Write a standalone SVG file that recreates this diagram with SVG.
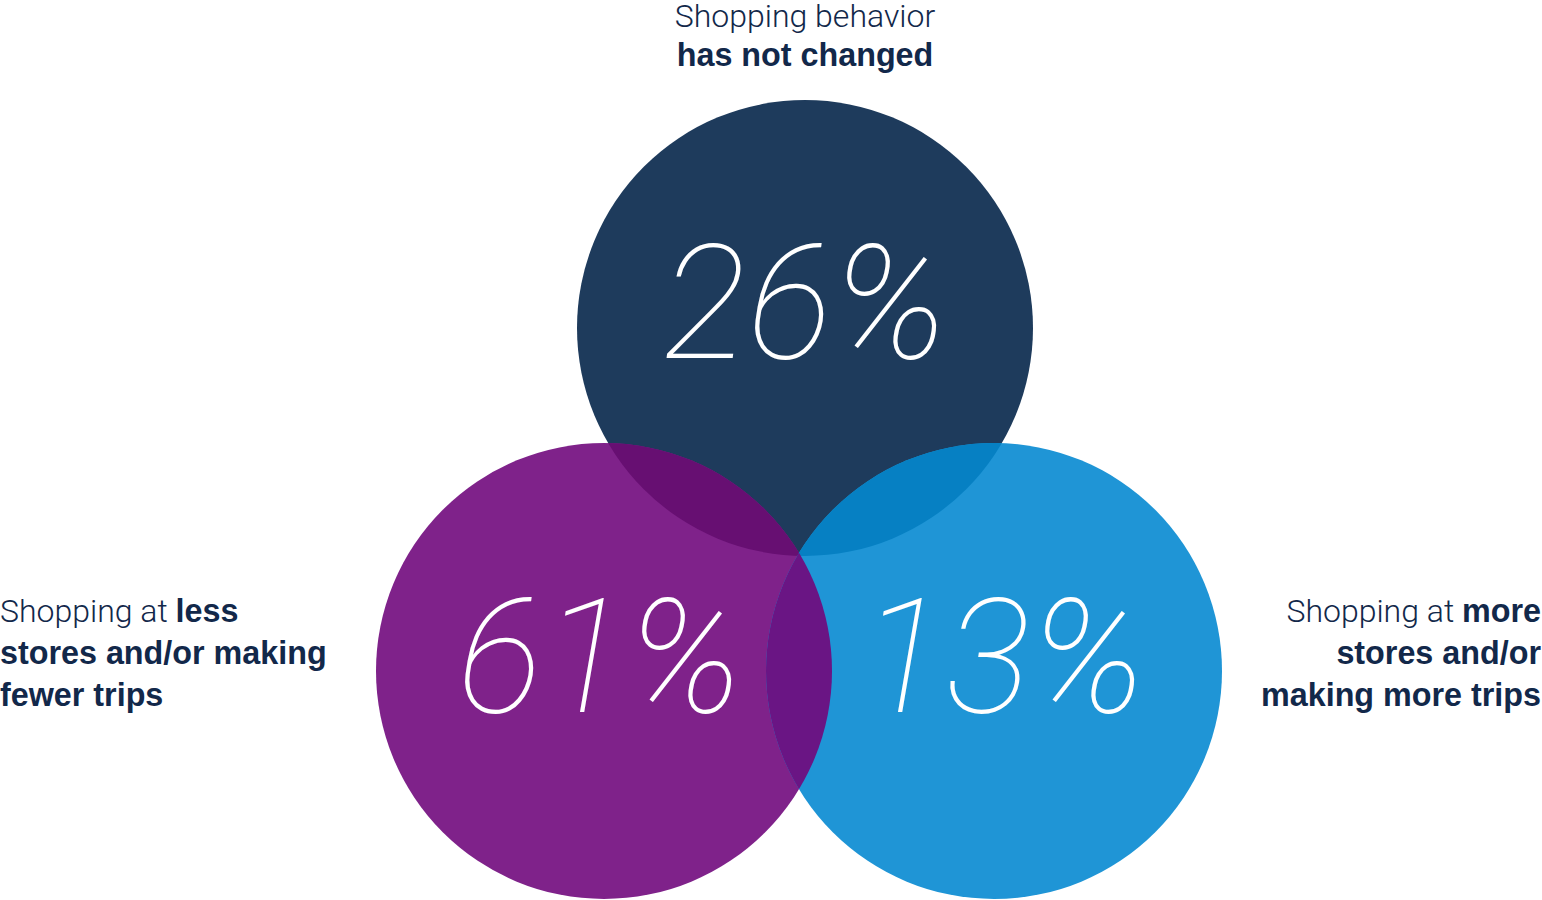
<svg xmlns="http://www.w3.org/2000/svg" width="1542" height="900" viewBox="0 0 1542 900">
<style>
.lbl{font-family:"Liberation Sans",Arial,sans-serif;font-size:32px;fill:#12284a;font-weight:400}
.b{font-weight:700;font-size:32.3px}
.light{font-family:Roboto,"Liberation Sans",sans-serif;font-weight:300;font-size:32px}
.pct{font-family:Roboto,"Liberation Sans",sans-serif;font-weight:100;font-style:italic;font-size:160px;fill:#ffffff;text-anchor:middle}
</style>
<defs>
<clipPath id="cTop"><circle cx="805" cy="328" r="228"/></clipPath>
<clipPath id="cLeft"><circle cx="604" cy="671" r="228"/></clipPath>
</defs>
<g id="node-top">
<circle cx="805" cy="328" r="228" fill="#1e3b5c"/>
</g>
<g id="node-left">
<circle cx="604" cy="671" r="228" fill="#7f228a"/>
</g>
<g id="node-right">
<circle cx="994" cy="671" r="228" fill="#1f95d6"/>
</g>
<g id="overlaps">
<circle cx="604" cy="671" r="228" fill="#670f72" clip-path="url(#cTop)"/>
<circle cx="994" cy="671" r="228" fill="#0680c3" clip-path="url(#cTop)"/>
<circle cx="994" cy="671" r="228" fill="#6a1584" clip-path="url(#cLeft)"/>
</g>
<g id="connectors"></g>
<g id="pct-labels">
<text class="pct" x="805" y="358">26%</text>
<text class="pct" x="600" y="712">61%</text>
<text class="pct" x="1003" y="712">13%</text>
</g>
<g id="label-top">
<text class="lbl" x="805" y="27" text-anchor="middle"><tspan class="light">Shopping behavior</tspan></text>
<text class="lbl b" x="805" y="66" text-anchor="middle">has not changed</text>
</g>
<g id="label-left">
<text class="lbl" x="0" y="622"><tspan class="light">Shopping at </tspan><tspan class="b">less</tspan></text>
<text class="lbl b" x="0" y="664">stores and/or making</text>
<text class="lbl b" x="0" y="706">fewer trips</text>
</g>
<g id="label-right">
<text class="lbl" x="1541" y="622" text-anchor="end"><tspan class="light">Shopping at </tspan><tspan class="b">more</tspan></text>
<text class="lbl b" x="1541" y="664" text-anchor="end">stores and/or</text>
<text class="lbl b" x="1541" y="706" text-anchor="end">making more trips</text>
</g>
</svg>
